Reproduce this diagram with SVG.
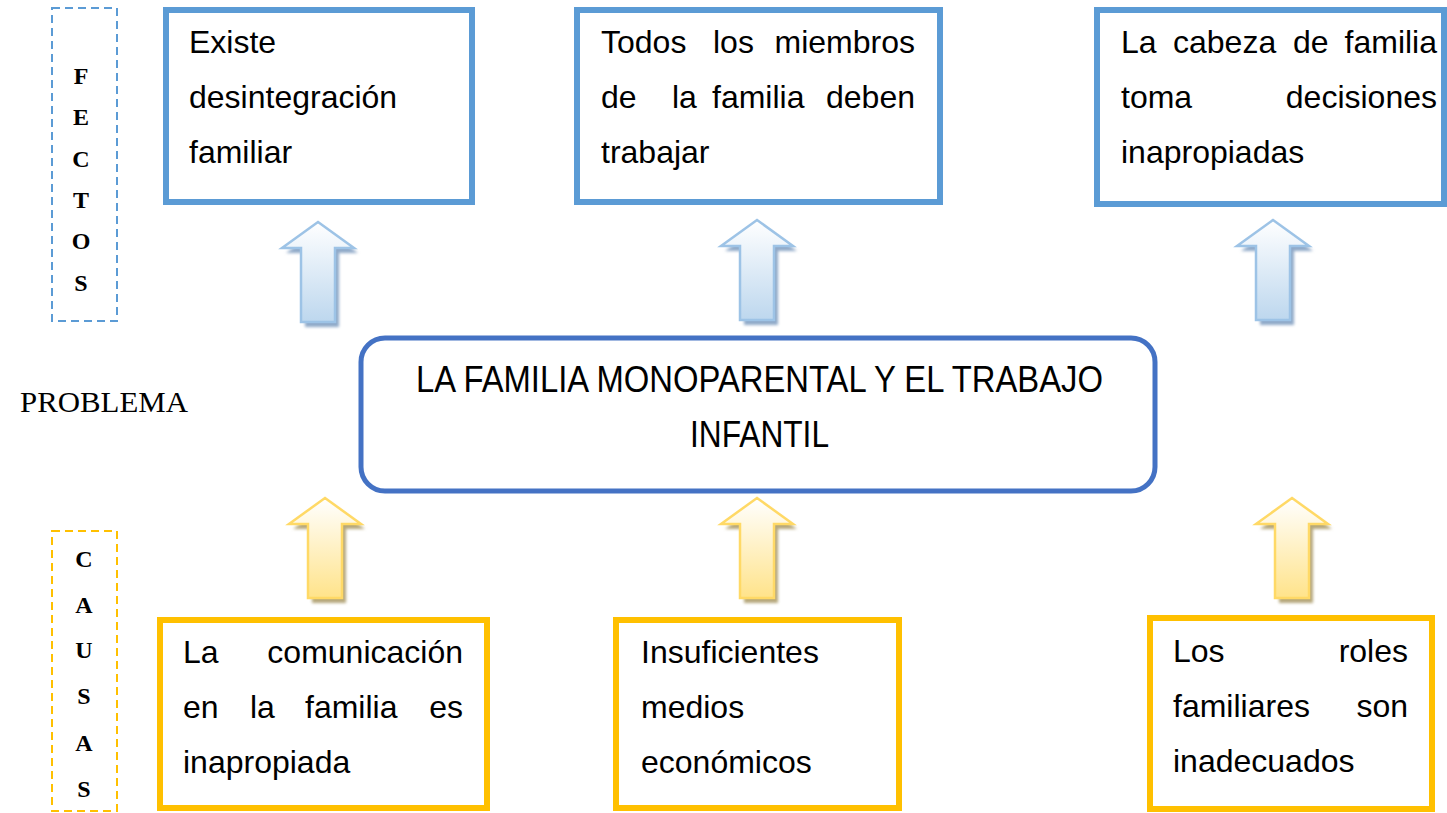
<svg xmlns="http://www.w3.org/2000/svg" width="1447" height="813" viewBox="0 0 1447 813">
<style>
.t{font-family:"Liberation Sans",Arial,sans-serif;font-size:32px;fill:#000}
.e{text-anchor:end}
.side{font-family:"Liberation Serif","Times New Roman",serif;font-size:24px;font-weight:bold;fill:#000;text-anchor:middle}
.bb{fill:#fff;stroke:#5B9BD5;stroke-width:6}
.yb{fill:#fff;stroke:#FFC000;stroke-width:6}
</style>
<defs>
<linearGradient id="gb" x1="0" y1="0" x2="0" y2="1"><stop offset="0" stop-color="#ffffff"/><stop offset="1" stop-color="#BDD7EE"/></linearGradient>
<linearGradient id="gy" x1="0" y1="0" x2="0" y2="1"><stop offset="0" stop-color="#ffffff"/><stop offset="1" stop-color="#FFE38A"/></linearGradient>
<filter id="blur" x="-20%" y="-20%" width="140%" height="140%"><feGaussianBlur stdDeviation="1.5"/></filter>
<path id="arr" d="M0,0 L36,26 L17,26 L17,100 L-17,100 L-17,26 L-36,26 Z"/>
<g id="arrowBlue">
<use href="#arr" transform="translate(4,5)" fill="#8FA9C8" filter="url(#blur)"/>
<use href="#arr" fill="url(#gb)" stroke="#9DC3E6" stroke-width="2.5" stroke-linejoin="miter"/>
</g>
<g id="arrowYellow">
<use href="#arr" transform="translate(4,5)" fill="#B5A77A" filter="url(#blur)"/>
<use href="#arr" fill="url(#gy)" stroke="#FFD966" stroke-width="2.5" stroke-linejoin="miter"/>
</g>
</defs>
<rect width="1447" height="813" fill="#fff"/>

<g id="label-efectos">
<rect x="52" y="8" width="65" height="313" fill="none" stroke="#5B9BD5" stroke-width="2" stroke-dasharray="8,5"/>
<text class="side" x="81" y="84">F</text>
<text class="side" x="81" y="125">E</text>
<text class="side" x="81" y="167">C</text>
<text class="side" x="81" y="208">T</text>
<text class="side" x="81" y="249">O</text>
<text class="side" x="81" y="291">S</text>
</g>

<g id="label-causas">
<rect x="52" y="531" width="65" height="280" fill="none" stroke="#FFC000" stroke-width="2" stroke-dasharray="8,5"/>
<text class="side" x="84" y="567">C</text>
<text class="side" x="84" y="613">A</text>
<text class="side" x="84" y="658">U</text>
<text class="side" x="84" y="704">S</text>
<text class="side" x="84" y="751">A</text>
<text class="side" x="84" y="797">S</text>
</g>

<g id="label-problema">
<text x="20" y="412" font-family="Liberation Serif,'Times New Roman',serif" font-size="30" textLength="168" lengthAdjust="spacingAndGlyphs">PROBLEMA</text>
</g>

<g id="efecto1">
<rect class="bb" x="166" y="10" width="306" height="192"/>
<text class="t" x="189" y="53">Existe</text>
<text class="t" x="189" y="108">desintegración</text>
<text class="t" x="189" y="163">familiar</text>
</g>

<g id="efecto2">
<rect class="bb" x="577" y="10" width="363" height="192"/>
<text class="t" x="601" y="53">Todos</text>
<text class="t" x="713" y="53">los</text>
<text class="t e" x="915" y="53">miembros</text>
<text class="t" x="601" y="108">de</text>
<text class="t" x="672" y="108">la</text>
<text class="t" x="712" y="108">familia</text>
<text class="t e" x="915" y="108">deben</text>
<text class="t" x="601" y="163">trabajar</text>
</g>

<g id="efecto3">
<rect class="bb" x="1097" y="10" width="347" height="194"/>
<text class="t" x="1121" y="53">La</text>
<text class="t" x="1173" y="53">cabeza</text>
<text class="t" x="1293" y="53">de</text>
<text class="t e" x="1437" y="53">familia</text>
<text class="t" x="1121" y="108">toma</text>
<text class="t e" x="1437" y="108">decisiones</text>
<text class="t" x="1121" y="163">inapropiadas</text>
</g>

<g id="problema">
<rect x="361" y="338" width="794" height="153" rx="24" ry="24" fill="#fff" stroke="#4472C4" stroke-width="5"/>
<text x="416" y="392" font-family="Liberation Sans,Arial,sans-serif" font-size="36" textLength="687" lengthAdjust="spacingAndGlyphs">LA FAMILIA MONOPARENTAL Y EL TRABAJO</text>
<text x="690" y="447" font-family="Liberation Sans,Arial,sans-serif" font-size="36" textLength="139" lengthAdjust="spacingAndGlyphs">INFANTIL</text>
</g>

<g id="causa1">
<rect class="yb" x="160" y="620" width="327" height="188"/>
<text class="t" x="183" y="663">La</text>
<text class="t e" x="463" y="663">comunicación</text>
<text class="t" x="183" y="718">en</text>
<text class="t" x="250" y="718">la</text>
<text class="t" x="305" y="718">familia</text>
<text class="t e" x="463" y="718">es</text>
<text class="t" x="183" y="773">inapropiada</text>
</g>

<g id="causa2">
<rect class="yb" x="616" y="620" width="283" height="188"/>
<text class="t" x="641" y="663">Insuficientes</text>
<text class="t" x="641" y="718">medios</text>
<text class="t" x="641" y="773">económicos</text>
</g>

<g id="causa3">
<rect class="yb" x="1150" y="618" width="282" height="191"/>
<text class="t" x="1173" y="662">Los</text>
<text class="t e" x="1408" y="662">roles</text>
<text class="t" x="1173" y="717">familiares</text>
<text class="t e" x="1408" y="717">son</text>
<text class="t" x="1173" y="772">inadecuados</text>
</g>

<g id="connectors">
<use href="#arrowBlue" transform="translate(318,222)"/>
<use href="#arrowBlue" transform="translate(757,220)"/>
<use href="#arrowBlue" transform="translate(1273,220)"/>
<use href="#arrowYellow" transform="translate(325,498)"/>
<use href="#arrowYellow" transform="translate(757,498)"/>
<use href="#arrowYellow" transform="translate(1292,498)"/>
</g>
</svg>
